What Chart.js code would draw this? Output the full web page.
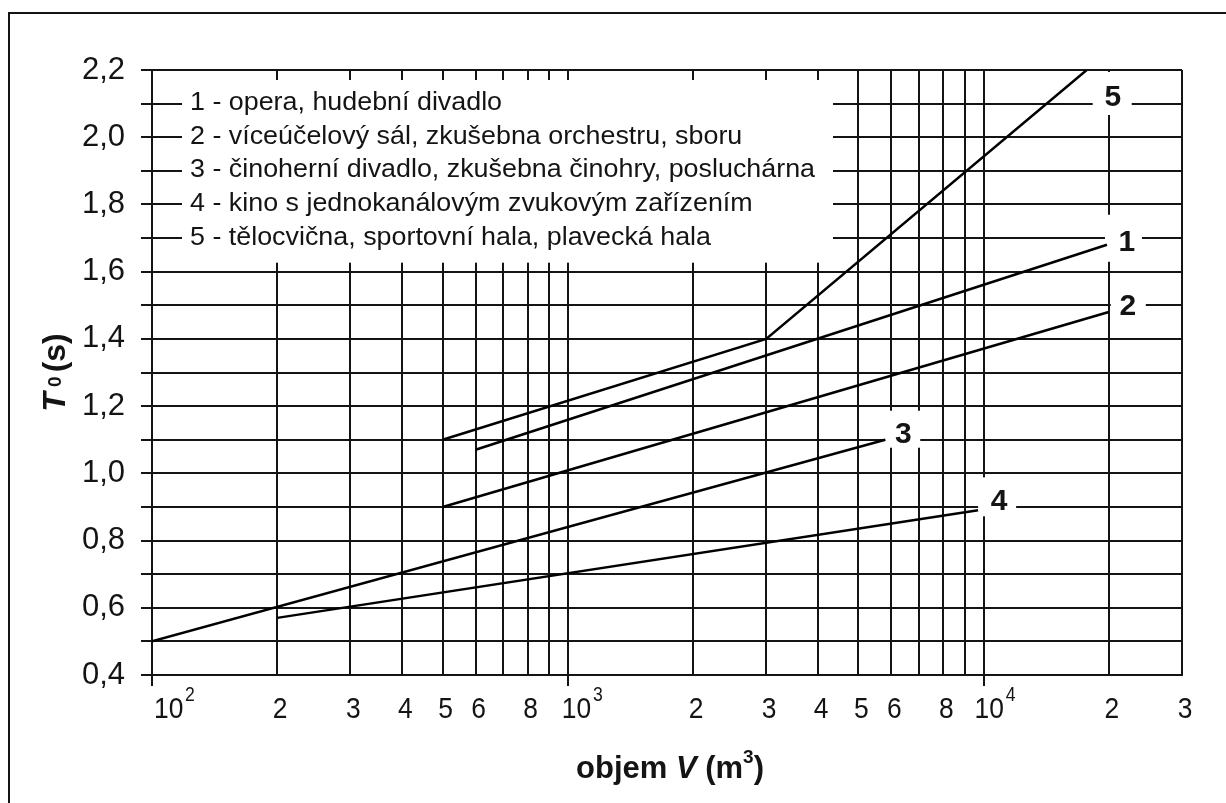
<!DOCTYPE html>
<html>
<head>
<meta charset="utf-8">
<script src="https://cdn.jsdelivr.net/npm/chart.js@4/dist/chart.umd.min.js"></script>
<style>
  body { margin: 0; background: #fff; }
  canvas { display: block; }
</style>
</head>
<body>
<canvas id="chart" width="1226" height="803"></canvas>
<script>
// Data: V in m3 (log axis), T0 in s
const seriesNames = ["1", "2", "3", "4", "5"];
const curve1V = [600, 19800];
const curve1T = [1.07, 1.68];
const curve2V = [500, 20000];
const curve2T = [0.9, 1.48];
const curve3V = [100, 5800];
const curve3T = [0.5, 1.1];
const curve4V = [200, 9700];
const curve4T = [0.57, 0.89];
const curve5V = [500, 3000, 17700];
const curve5T = [1.1, 1.4, 2.2];

const xGridValues = [100, 200, 300, 400, 500, 600, 700, 800, 900,
  1000, 2000, 3000, 4000, 5000, 6000, 7000, 8000, 9000, 10000, 20000, 30000];
const xTickValues = [100, 200, 300, 400, 500, 600, 800, 1000,
  2000, 3000, 4000, 5000, 6000, 8000, 10000, 20000, 30000];
const xTickLabels = ["10^2", "2", "3", "4", "5", "6", "8", "10^3",
  "2", "3", "4", "5", "6", "8", "10^4", "2", "3"];
const yTickValues = [0.4, 0.5, 0.6, 0.7, 0.8, 0.9, 1.0, 1.1, 1.2, 1.3,
  1.4, 1.5, 1.6, 1.7, 1.8, 1.9, 2.0, 2.1, 2.2];
const yTickLabels = ["0,4", "", "0,6", "", "0,8", "", "1,0", "", "1,2", "",
  "1,4", "", "1,6", "", "1,8", "", "2,0", "", "2,2"];

const legendLabels = [
  "1 - opera, hudební divadlo",
  "2 - víceúčelový sál, zkušebna orchestru, sboru",
  "3 - činoherní divadlo, zkušebna činohry, posluchárna",
  "4 - kino s jednokanálovým zvukovým zařízením",
  "5 - tělocvična, sportovní hala, plavecká hala",
];

const FONT = "'Liberation Sans', Arial, sans-serif";
const INK = "#141414";

function toPoints(vs, ts) {
  return vs.map((v, i) => ({ x: v, y: ts[i] }));
}

const curves = [
  toPoints(curve1V, curve1T),
  toPoints(curve2V, curve2T),
  toPoints(curve3V, curve3T),
  toPoints(curve4V, curve4T),
  toPoints(curve5V, curve5T),
];

// label offset from the end of each curve, and the white box behind it
const labelOffsets = [[20, -4], [19, -8], [18, -7], [21, -11], [26, 25]];
const labelBoxes = [[-22, 15, -26, 21], [-17, 18, -16, 15], [-18, 17, -22, 15],
  [-21, 17, -22, 17], [-20, 19, -23, 20]];

const overlayPlugin = {
  id: "overlay",
  beforeDatasetsDraw(chart) {
    const ctx = chart.ctx;
    const ys = chart.scales.y;
    ctx.save();
    ctx.fillStyle = "#fff";

    // legend box hides the grid, top and bottom tick stubs stay
    const boxTop = ys.getPixelForValue(2.2) + 10;
    const boxBottom = ys.getPixelForValue(1.6) - 9;
    ctx.fillRect(182, boxTop, 833 - 182, boxBottom - boxTop);

    // boxes behind the curve numbers
    curves.forEach((pts, i) => {
      const meta = chart.getDatasetMeta(i);
      const end = meta.data[meta.data.length - 1];
      const cx = end.x + labelOffsets[i][0];
      const cy = end.y + labelOffsets[i][1];
      const b = labelBoxes[i];
      ctx.fillRect(cx + b[0], cy + b[2], b[1] - b[0], b[3] - b[2]);
    });

    // legend text, squeezed a bit to the width of the original lettering
    ctx.fillStyle = INK;
    ctx.font = "25px " + FONT;
    ctx.textAlign = "left";
    ctx.textBaseline = "alphabetic";
    const squeeze = 625 / ctx.measureText(legendLabels[2]).width;
    legendLabels.forEach((txt, i) => {
      const y = ys.getPixelForValue(2.1 - 0.1 * i) + 6.5;
      ctx.save();
      ctx.translate(190, y);
      ctx.scale(squeeze, 1);
      ctx.fillText(txt, 0, 0);
      ctx.restore();
    });
    ctx.restore();
  },

  afterDatasetsDraw(chart) {
    const ctx = chart.ctx;
    const xs = chart.scales.x;
    const area = chart.chartArea;
    ctx.save();
    ctx.fillStyle = INK;

    // curve numbers
    ctx.font = "bold 30px " + FONT;
    ctx.textAlign = "center";
    ctx.textBaseline = "alphabetic";
    seriesNames.forEach((name, i) => {
      const meta = chart.getDatasetMeta(i);
      const end = meta.data[meta.data.length - 1];
      ctx.fillText(name, end.x + labelOffsets[i][0], end.y + labelOffsets[i][1] + 10.7);
    });

    // x tick labels with powers of ten (the drawn decades sit a little unevenly)
    const base = area.bottom + 43;
    const powerShift = [2, -6, -9];
    let powerIndex = 0;
    xTickValues.forEach((v, i) => {
      const px = xs.getPixelForValue(v);
      const lab = xTickLabels[i];
      ctx.save();
      if (lab.indexOf("^") >= 0) {
        const parts = lab.split("^");
        ctx.font = "30px " + FONT;
        ctx.textAlign = "left";
        ctx.translate(px + powerShift[powerIndex++], base);
        ctx.scale(0.88, 1);
        ctx.fillText(parts[0], 0, 0);
        const w = ctx.measureText(parts[0]).width;
        ctx.font = "20px " + FONT;
        ctx.fillText(parts[1], w + 2, -17);
      } else {
        ctx.font = "30px " + FONT;
        ctx.textAlign = "center";
        ctx.translate(px + 3, base);
        ctx.scale(0.88, 1);
        ctx.fillText(lab, 0, 0);
      }
      ctx.restore();
    });

    // x axis title: objem V (m3)
    const xParts = [
      { t: "objem ", f: "bold 31px " + FONT, dy: 0 },
      { t: "V", f: "italic bold 31px " + FONT, dy: 0 },
      { t: " (m", f: "bold 31px " + FONT, dy: 0 },
      { t: "3", f: "bold 19px " + FONT, dy: -15 },
      { t: ")", f: "bold 31px " + FONT, dy: 0 },
    ];
    drawParts(ctx, xParts, (area.left + area.right) / 2 + 3, area.bottom + 103, 0);

    // y axis title: T0 (s)
    const yParts = [
      { t: "T", f: "italic bold 32px " + FONT, dy: 0 },
      { t: " 0", f: "bold 19px " + FONT, dy: -4 },
      { t: "(s)", f: "bold 32px " + FONT, dy: 0, pad: 4 },
    ];
    drawParts(ctx, yParts, 54 + 11, (area.top + area.bottom) / 2, -Math.PI / 2);

    // frame of the figure
    ctx.strokeStyle = INK;
    ctx.lineWidth = 2;
    ctx.beginPath();
    ctx.moveTo(9, 803);
    ctx.lineTo(9, 13);
    ctx.lineTo(1226, 13);
    ctx.stroke();
    ctx.restore();
  },
};

function drawParts(ctx, parts, cx, cy, angle) {
  ctx.save();
  ctx.translate(cx, cy);
  ctx.rotate(angle);
  ctx.textAlign = "left";
  ctx.textBaseline = "alphabetic";
  let total = 0;
  parts.forEach((p) => {
    ctx.font = p.f;
    p.w = ctx.measureText(p.t).width + (p.pad || 0);
    total += p.w;
  });
  let x = -total / 2;
  parts.forEach((p) => {
    ctx.font = p.f;
    ctx.fillText(p.t, x + (p.pad || 0), p.dy);
    x += p.w;
  });
  ctx.restore();
}

const datasets = curves.map((pts, i) => ({
  label: seriesNames[i],
  data: pts,
  borderColor: "#000",
  borderWidth: 2.5,
  pointRadius: 0,
  tension: 0,
  fill: false,
}));

new Chart(document.getElementById("chart").getContext("2d"), {
  type: "line",
  data: { datasets: datasets },
  options: {
    responsive: false,
    animation: false,
    events: [],
    layout: { autoPadding: false, padding: { top: 70, right: 44, left: 0, bottom: 0 } },
    plugins: { legend: { display: false }, tooltip: { enabled: false } },
    scales: {
      x: {
        type: "logarithmic",
        min: 100,
        max: 30000,
        afterBuildTicks: (s) => { s.ticks = xGridValues.map((v) => ({ value: v })); },
        afterFit: (s) => { s.height = 128; },
        ticks: { display: false, autoSkip: false },
        grid: {
          color: INK,
          lineWidth: 2,
          tickLength: 11,
          tickColor: (c) => ([100, 1000, 10000].includes(c.tick && c.tick.value) ? INK : "rgba(0,0,0,0)"),
        },
        border: { color: INK, width: 2 },
      },
      y: {
        type: "linear",
        min: 0.4,
        max: 2.2,
        afterBuildTicks: (s) => { s.ticks = yTickValues.map((v) => ({ value: v })); },
        afterFit: (s) => { s.width = 152; },
        ticks: {
          autoSkip: false,
          padding: 16,
          color: INK,
          font: { family: FONT, size: 31 },
          callback: (value, index) => yTickLabels[index],
        },
        grid: { color: INK, lineWidth: 2, tickLength: 11, tickColor: INK },
        border: { color: INK, width: 2 },
      },
    },
  },
  plugins: [overlayPlugin],
});
</script>
</body>
</html>
